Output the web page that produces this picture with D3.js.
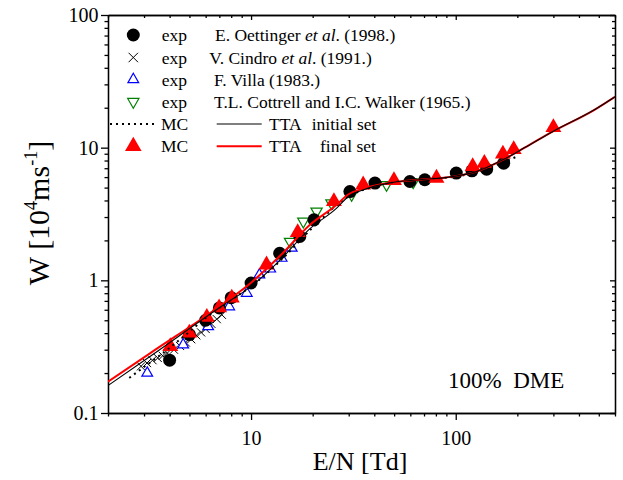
<!DOCTYPE html>
<html><head><meta charset="utf-8">
<script src="https://cdn.jsdelivr.net/npm/d3@7"></script>
<style>
body{margin:0;background:#fff;}
text{font-family:"Liberation Serif","Times New Roman",serif;}
</style></head>
<body><svg id="c" width="623" height="480"></svg>
<script>
// ---- data ----
const oettingerE = [4.0, 5.0, 6.0, 7.0, 8.0, 10, 13.8, 17.3, 20.3, 30.4, 40.3, 59.7, 70.6, 100.6, 120, 141.6, 171.5];
const oettingerW = [0.25, 0.39, 0.5, 0.62, 0.74, 0.955, 1.6, 2.14, 2.86, 4.67, 5.41, 5.56, 5.73, 6.43, 6.69, 6.89, 7.64];
const cindroE = [2.9, 3.1, 3.3, 3.5, 3.7, 3.9, 4.2, 4.5, 4.8, 5.1, 5.4, 5.7, 6.0, 6.4, 6.8, 7.2];
const cindroW = [0.225, 0.238, 0.25, 0.26, 0.27, 0.283, 0.30, 0.32, 0.34, 0.36, 0.385, 0.405, 0.43, 0.47, 0.51, 0.55];
const villaE = [3.11, 4.66, 6.17, 7.82, 9.53, 10.98, 12.4, 14.1, 15.8];
const villaW = [0.20, 0.327, 0.448, 0.633, 0.80, 1.10, 1.22, 1.47, 1.75];
const cottrellE = [15.5, 18.0, 20.9, 24.7, 31.0, 45.9, 62.0];
const cottrellW = [1.96, 2.78, 3.31, 3.82, 4.42, 5.25, 5.5];
const mcFinalE = [4.03, 4.99, 6.08, 6.98, 8.05, 11.9, 16.9, 25.4, 35.3, 49.9, 80.5, 121, 138, 170, 192, 300];
const mcFinalW = [0.318, 0.401, 0.527, 0.622, 0.736, 1.31, 2.30, 3.93, 5.25, 5.67, 5.9, 7.21, 7.64, 8.98, 9.7, 14.2];
const ttaFinalE = [2, 3.22, 7.2, 10, 13.86, 19.4, 26.2, 29.7, 35.2, 47.6, 66.8, 96.6, 126, 170, 222, 297, 476, 600];
const ttaFinalW = [0.172, 0.283, 0.655, 0.96, 1.53, 2.62, 3.71, 4.42, 4.9, 5.43, 5.73, 6.05, 6.6, 8.1, 10.2, 13.2, 19.3, 24.2];
const ttaInitE = [2, 3.22, 7.2, 10, 13.86, 19.4, 26.2, 29.7, 35.2, 47.6, 66.8, 96.6, 126, 170, 222, 297, 476, 600];
const ttaInitW = [0.161, 0.268, 0.64, 0.90, 1.42, 2.45, 3.5, 4.25, 4.8, 5.43, 5.73, 6.05, 6.6, 8.1, 10.2, 13.2, 19.3, 24.2];
const mcInitE = [2.54, 3.0, 3.5, 4.0, 5.0, 6.0, 7.2, 10, 14, 20, 30, 40, 60, 100, 200];
const mcInitW = [0.184, 0.222, 0.265, 0.31, 0.41, 0.52, 0.64, 0.9, 1.42, 2.5, 4.3, 5.1, 5.7, 6.05, 8.6];
const xMajor = [10, 100];
const xMinor = [2,3,4,5,6,7,8,9,20,30,40,50,60,70,80,90,200,300,400,500,600];
const yMajor = [0.1, 1, 10, 100];
const yMinor = [0.2,0.3,0.4,0.5,0.6,0.7,0.8,0.9,2,3,4,5,6,7,8,9,20,30,40,50,60,70,80,90];
const xLabels = ["10", "100"];
const yLabels = ["0.1", "1", "10", "100"];
const legendExp = ["E. Oettinger |et al|. (1998.)", "V. Cindro |et al|. (1991.)", "F. Villa (1983.)", "T.L. Cottrell and I.C. Walker (1965.)"];

// ---- layout ----
const svg = d3.select("#c");
const L = 108, R = 615, T = 15, B = 413;
const x = d3.scaleLog().domain([2, 600]).range([L, R]);
const y = d3.scaleLog().domain([0.1, 100]).range([B, T]);
const zip = (a, b) => a.map((v, i) => [v, b[i]]);

// axes
function mkAxis(gen, scale, vals, size, fmt, pad) {
  const a = gen(scale).tickValues(vals).tickSize(size).tickSizeOuter(0).tickPadding(pad);
  a.tickFormat(fmt ? (d, i) => fmt[i] : () => "");
  return a;
}
const axG = svg.append("g");
function drawAxis(gen, transform, majSize, minSize, labels, vals, minors, pad) {
  const sc = (gen === d3.axisBottom || gen === d3.axisTop) ? x : y;
  const g1 = axG.append("g").attr("transform", transform).call(mkAxis(gen, sc, minors, minSize, null, 0));
  const g2 = axG.append("g").attr("transform", transform).call(mkAxis(gen, sc, vals, majSize, labels, pad));
  [g1, g2].forEach(g => {
    g.selectAll("path,line").attr("stroke", "#000").attr("stroke-width", 1.3);
    g.selectAll("text").attr("font-family", "Liberation Serif").attr("font-size", 20).attr("fill", "#000");
  });
  return g2;
}
drawAxis(d3.axisBottom, `translate(0,${B})`, 7, 3.5, xLabels, xMajor, xMinor, 11);
drawAxis(d3.axisLeft, `translate(${L},0)`, 7, 3.5, yLabels, yMajor, yMinor, 2.5);
drawAxis(d3.axisTop, `translate(0,${T})`, -5, -3, null, xMajor, xMinor, 0);
drawAxis(d3.axisRight, `translate(${R},0)`, -5, -3, null, yMajor, yMinor, 0);

// plot clip
svg.append("clipPath").attr("id", "clip").append("rect").attr("x", L).attr("y", T).attr("width", R - L).attr("height", B - T);
const plot = svg.append("g").attr("clip-path", "url(#clip)");
const line = d3.line().x(d => x(d[0])).y(d => y(d[1])).curve(d3.curveMonotoneX);

// markers
plot.append("g").selectAll("path").data(zip(cindroE, cindroW)).join("path")
  .attr("d", d3.symbol().type(d3.symbolX).size(45)).attr("transform", d => `translate(${x(d[0])},${y(d[1])})`)
  .attr("fill", "none").attr("stroke", "#000").attr("stroke-width", 1);
plot.append("g").selectAll("path").data(zip(villaE, villaW)).join("path")
  .attr("d", d3.symbol().type(d3.symbolTriangle).size(50)()).attr("transform", d => `translate(${x(d[0])},${y(d[1])})`)
  .attr("fill", "#fff").attr("stroke", "#0000ff").attr("stroke-width", 1.2);
plot.append("g").selectAll("path").data(zip(cottrellE, cottrellW)).join("path")
  .attr("d", d3.symbol().type(d3.symbolTriangle).size(55)()).attr("transform", d => `translate(${x(d[0])},${y(d[1])}) rotate(180)`)
  .attr("fill", "#fff").attr("stroke", "#008000").attr("stroke-width", 1.2);
plot.append("g").selectAll("circle").data(zip(oettingerE, oettingerW)).join("circle")
  .attr("cx", d => x(d[0])).attr("cy", d => y(d[1])).attr("r", 6.5).attr("fill", "#000");
plot.append("g").selectAll("path").data(zip(mcFinalE, mcFinalW)).join("path")
  .attr("d", d3.symbol().type(d3.symbolTriangle).size(110)()).attr("transform", d => `translate(${x(d[0])},${y(d[1])})`)
  .attr("fill", "#ff0000");
// lines
plot.append("path").datum(zip(mcInitE, mcInitW)).attr("d", line).attr("fill", "none")
  .attr("stroke", "#000").attr("stroke-width", 2).attr("stroke-dasharray", "2,4");
plot.append("path").datum(zip(ttaFinalE, ttaFinalW)).attr("d", line).attr("fill", "none")
  .attr("stroke", "#ff0000").attr("stroke-width", 2);
plot.append("path").datum(zip(ttaInitE, ttaInitW)).attr("d", line).attr("fill", "none")
  .attr("stroke", "#000").attr("stroke-width", 1.1);

// legend
const lg = svg.append("g").attr("font-size", 17.5).attr("fill", "#000");
const rows = [35, 57.5, 79.5, 101.7, 124, 146.3];
const symX = 133.3;
lg.append("circle").attr("cx", symX).attr("cy", rows[0]).attr("r", 6.5).attr("fill", "#000");
lg.append("path").attr("d", d3.symbol().type(d3.symbolX).size(60)()).attr("transform", `translate(${symX},${rows[1]})`).attr("stroke", "#000").attr("stroke-width", 1);
lg.append("path").attr("d", d3.symbol().type(d3.symbolTriangle).size(50)()).attr("transform", `translate(${symX},${rows[2]})`).attr("fill", "#fff").attr("stroke", "#0000ff").attr("stroke-width", 1.2);
lg.append("path").attr("d", d3.symbol().type(d3.symbolTriangle).size(55)()).attr("transform", `translate(${symX},${rows[3]}) rotate(180)`).attr("fill", "#fff").attr("stroke", "#008000").attr("stroke-width", 1.2);
lg.append("line").attr("x1", 110).attr("x2", 157).attr("y1", rows[4]).attr("y2", rows[4]).attr("stroke", "#000").attr("stroke-width", 2).attr("stroke-dasharray", "2,4");
lg.append("path").attr("d", d3.symbol().type(d3.symbolTriangle).size(120)()).attr("transform", `translate(${symX},${rows[5]})`).attr("fill", "#ff0000");
lg.append("line").attr("x1", 216.7).attr("x2", 261.7).attr("y1", rows[4]).attr("y2", rows[4]).attr("stroke", "#000").attr("stroke-width", 1.1);
lg.append("line").attr("x1", 216.7).attr("x2", 261.7).attr("y1", rows[5]).attr("y2", rows[5]).attr("stroke", "#ff0000").attr("stroke-width", 2);
const labelX = [215, 209.3, 214, 214];
legendExp.forEach((s, i) => {
  lg.append("text").attr("x", 161.7).attr("y", rows[i] + 6).text("exp");
  const t = lg.append("text").attr("x", labelX[i]).attr("y", rows[i] + 6);
  s.split("|").forEach((p, j) => t.append("tspan").attr("font-style", j % 2 ? "italic" : "normal").text(p));
});
lg.append("text").attr("x", 161).attr("y", rows[4] + 6).text("MC");
lg.append("text").attr("x", 161).attr("y", rows[5] + 6).text("MC");
lg.append("text").attr("x", 269).attr("y", rows[4] + 6).text("TTA");
lg.append("text").attr("x", 311.7).attr("y", rows[4] + 6).text("initial set");
lg.append("text").attr("x", 269).attr("y", rows[5] + 6).text("TTA");
lg.append("text").attr("x", 320).attr("y", rows[5] + 6).text("final set");

// annotation
svg.append("text").attr("x", 448).attr("y", 388).attr("font-size", 23).text("100%\u00a0\u00a0DME");

// axis titles
svg.append("text").attr("x", 360).attr("y", 470).attr("text-anchor", "middle").attr("font-size", 26).text("E/N [Td]");
const yt = svg.append("text").attr("transform", "translate(49,213) rotate(-90)").attr("text-anchor", "middle").attr("font-size", 30);
yt.append("tspan").text("W [10");
yt.append("tspan").attr("font-size", 18).attr("dy", -12).text("4");
yt.append("tspan").attr("dy", 12).text("ms");
yt.append("tspan").attr("font-size", 18).attr("dy", -12).text("-1");
yt.append("tspan").attr("dy", 12).text("]");
</script></body></html>
